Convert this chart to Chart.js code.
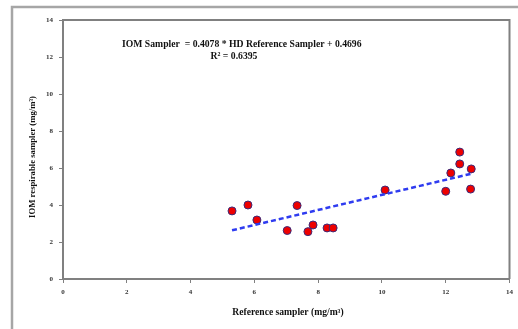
<!DOCTYPE html>
<html>
<head>
<meta charset="utf-8">
<script src="https://cdn.jsdelivr.net/npm/chart.js@4/dist/chart.umd.min.js"></script>
<style>
  html, body { margin: 0; padding: 0; background: #fff; }
  #wrap { width: 518px; height: 329px; }
</style>
</head>
<body>
<div id="wrap"><canvas id="c" width="518" height="329"></canvas></div>
<script>
// data
const refSampler = [5.3, 5.8, 6.08, 7.03, 7.34, 7.68, 7.84, 8.28, 8.47, 10.1, 12.0, 12.16, 12.44, 12.44, 12.8, 12.78];
const iomSampler = [3.68, 4.0, 3.19, 2.62, 3.97, 2.56, 2.92, 2.76, 2.76, 4.81, 4.74, 5.73, 6.86, 6.22, 5.95, 4.86];
const trendX = [5.3, 12.8];
const slope = 0.4078;
const intercept = 0.4696;
const axisTicks = [0, 2, 4, 6, 8, 10, 12, 14];

const points = refSampler.map((x, i) => ({ x: x, y: iomSampler[i] }));
const trend = trendX.map(x => ({ x: x, y: slope * x + intercept }));

const serif = '"Liberation Serif", "DejaVu Serif", serif';

const decor = {
  id: 'decor',
  beforeDraw(chart) {
    const ctx = chart.ctx;
    ctx.save();
    ctx.strokeStyle = '#a6a6a6';
    ctx.lineWidth = 2.5;
    ctx.beginPath();
    ctx.moveTo(12, 340);
    ctx.lineTo(12, 7);
    ctx.lineTo(530, 7);
    ctx.stroke();
    ctx.restore();
  },
  afterDatasetsDraw(chart) {
    const ctx = chart.ctx;
    const a = chart.chartArea;
    ctx.save();
    ctx.strokeStyle = '#808080';
    ctx.lineWidth = 2;
    ctx.beginPath();
    ctx.moveTo(a.left, a.top);
    ctx.lineTo(a.right, a.top);
    ctx.lineTo(a.right, a.bottom);
    ctx.stroke();

    ctx.fillStyle = '#111';
    ctx.font = 'bold 9.7px ' + serif;
    ctx.textBaseline = 'middle';
    ctx.textAlign = 'left';
    ctx.fillText('IOM Sampler  = 0.4078 * HD Reference Sampler + 0.4696', 122, 44);
    ctx.textAlign = 'center';
    ctx.fillText('R\u00B2 = 0.6395', 234, 56);

    ctx.font = 'bold 9.6px ' + serif;
    ctx.fillText('Reference sampler (mg/m\u00B3)', 288, 313);
    ctx.font = 'bold 8.7px ' + serif;
    ctx.translate(33, 157);
    ctx.rotate(-Math.PI / 2);
    ctx.fillText('IOM respirable sampler (mg/m\u00B3)', 0, 0);
    ctx.restore();
  }
};

new Chart(document.getElementById('c'), {
  type: 'scatter',
  data: {
    datasets: [
      {
        label: 'trend',
        data: trend,
        showLine: true,
        borderColor: '#2f3cf0',
        borderWidth: 2.5,
        borderDash: [5, 3],
        pointRadius: 0,
        fill: false
      },
      {
        label: 'samples',
        data: points,
        backgroundColor: '#ee0000',
        borderColor: '#3a2a7a',
        borderWidth: 1,
        pointRadius: 4
      }
    ]
  },
  options: {
    responsive: false,
    animation: false,
    layout: { padding: { top: 20, right: 6, left: 0, bottom: 0 } },
    plugins: { legend: { display: false }, tooltip: { enabled: false } },
    scales: {
      x: {
        type: 'linear',
        min: 0,
        max: 14,
        afterBuildTicks: s => { s.ticks = axisTicks.map(v => ({ value: v })); },
        afterFit: s => { s.height = 50; },
        grid: { drawOnChartArea: false, tickLength: 4, color: '#808080' },
        border: { color: '#808080', width: 2 },
        ticks: { color: '#333', font: { family: serif, size: 7, weight: 'bold' }, padding: 5, maxRotation: 0 }
      },
      y: {
        type: 'linear',
        min: 0,
        max: 14,
        afterBuildTicks: s => { s.ticks = axisTicks.map(v => ({ value: v })); },
        afterFit: s => { s.width = 63; },
        grid: { drawOnChartArea: false, tickLength: 4, color: '#808080' },
        border: { color: '#808080', width: 2 },
        ticks: { color: '#333', font: { family: serif, size: 7, weight: 'bold' }, padding: 6 }
      }
    }
  },
  plugins: [decor]
});
</script>
</body>
</html>
